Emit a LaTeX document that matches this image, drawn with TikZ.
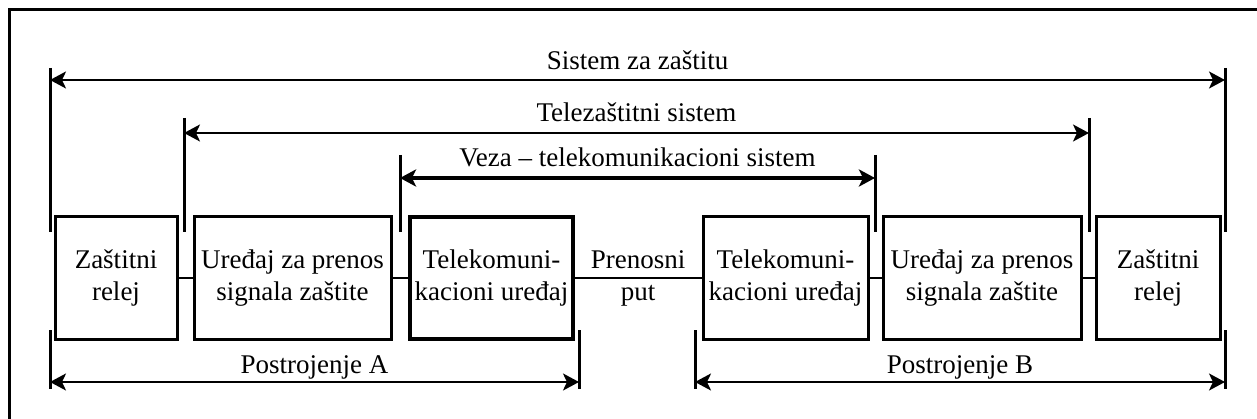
\documentclass[tikz,border=0pt]{standalone}
\usepackage{fontspec}
\setmainfont{Liberation Serif}
\usetikzlibrary{arrows.meta}

\begin{document}
\begin{tikzpicture}[x=1pt,y=1pt,
  blok/.style={draw=black,line width=3pt,minimum height=122pt,align=center,inner sep=0pt},
  veza/.style={line width=2pt},
  crta/.style={line width=3pt},
  raspon/.style={line width=2pt,{Stealth[length=16pt,width=17pt,inset=4pt]}-{Stealth[length=16pt,width=17pt,inset=4pt]}},
  natpis/.style={anchor=base,inner sep=0pt}]
\tikzstyle{every node}+=[font=\fontsize{27}{32}\selectfont]
\useasboundingbox (0,0) rectangle (1257,-419);
\draw [black,line width=3pt] (9,-419) -- (9,-10) -- (1257,-10);
\node [blok,minimum width=122pt] (rA) at (116,-278) {Zaštitni\\relej};
\node [blok,minimum width=197pt] (uA) at (292.5,-278) {Uređaj za prenos\\signala zaštite};
\node [blok,minimum width=163pt,line width=3.5pt] (tA) at (491.5,-278) {Telekomuni-\\kacioni uređaj};
\node [blok,minimum width=165pt] (tB) at (785.5,-278) {Telekomuni-\\kacioni uređaj};
\node [blok,minimum width=198pt] (uB) at (982,-278) {Uređaj za prenos\\signala zaštite};
\node [blok,minimum width=124pt] (rB) at (1158,-278) {Zaštitni\\relej};
\draw [veza] (rA) -- (uA);
\draw [veza] (uA) -- (tA);
\draw [veza] (tA) -- (tB);
\draw [veza] (tB) -- (uB);
\draw [veza] (uB) -- (rB);
\node [align=center,inner sep=0pt] (put) at (638,-278) {Prenosni\\put};
\coordinate (s1) at (50,-80);
\coordinate (s2) at (1225,-80);
\coordinate (z1) at (184,-133);
\coordinate (z2) at (1089,-133);
\coordinate (v1) at (400,-178);
\coordinate (v2) at (875,-178);
\coordinate (pA1) at (50,-382);
\coordinate (pA2) at (579,-382);
\coordinate (pB1) at (695,-382);
\coordinate (pB2) at (1225,-382);
\draw [crta] (50,-68) -- (50,-232);
\draw [crta] (1225,-68) -- (1225,-232);
\draw [crta] (184,-118) -- (184,-232);
\draw [crta] (1089,-118) -- (1089,-232);
\draw [crta] (400,-155) -- (400,-232);
\draw [crta] (875,-155) -- (875,-232);
\draw [crta] (50,-330) -- (50,-389);
\draw [crta] (579,-330) -- (579,-389);
\draw [crta] (695,-330) -- (695,-389);
\draw [crta] (1225,-330) -- (1225,-389);
\draw [raspon] (s1) -- (s2);
\draw [raspon] (z1) -- (z2);
\draw [raspon,line width=4pt] (v1) -- (v2);
\draw [raspon] (pA1) -- (pA2);
\draw [raspon] (pB1) -- (pB2);
\node [natpis] (sistem) at (637.5,-70) {Sistem za zaštitu};
\node [natpis] (tele) at (636.5,-122) {Telezaštitni sistem};
\node [natpis] (vezatk) at (637.5,-167) {Veza – telekomunikacioni sistem};
\node [natpis] (postA) at (314.5,-373) {Postrojenje A};
\node [natpis] (postB) at (960,-373) {Postrojenje B};
\end{tikzpicture}
\end{document}
